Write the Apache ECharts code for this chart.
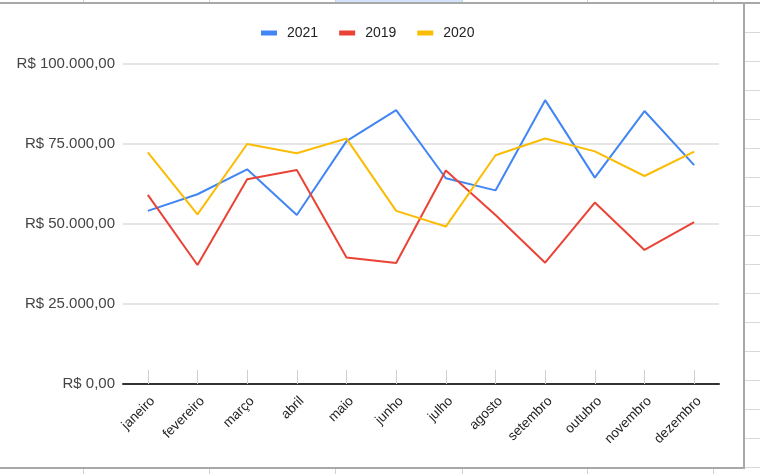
<!DOCTYPE html>
<html>
<head>
<meta charset="utf-8">
<script src="https://cdn.jsdelivr.net/npm/echarts@6/dist/echarts.min.js"></script>
<style>
html,body{margin:0;padding:0;background:#fff;}
#chart{width:760px;height:474px;}
</style>
</head>
<body>
<div id="chart"></div>
<script>
const months = ['janeiro','fevereiro','março','abril','maio','junho','julho','agosto','setembro','outubro','novembro','dezembro'];
const seriesNames = ['2021','2019','2020'];
const values2021 = [54100, 59300, 67100, 52800, 75900, 85600, 64300, 60500, 88700, 64500, 85300, 68400];
const values2019 = [59100, 37200, 64000, 66900, 39500, 37800, 66700, 52800, 37900, 56700, 41900, 50600];
const values2020 = [72400, 53000, 75000, 72100, 76700, 54100, 49200, 71500, 76700, 72700, 65000, 72600];
const yTicks = [0, 25000, 50000, 75000, 100000];

function brl(v){
  const s = Math.round(v).toString().replace(/\B(?=(\d{3})+(?!\d))/g, '.');
  return 'R$ ' + s + ',00';
}

const colors = ['#4285F4', '#EA4335', '#FBBC04'];
const dataBySeries = [values2021, values2019, values2020];

// spreadsheet decoration around the chart frame
const deco = [];
const colX = [83, 209, 335, 462, 587, 713];
deco.push({type:'rect', shape:{x:335, y:0, width:127, height:3}, style:{fill:'#d3e3fd'}, silent:true});
colX.forEach(x => {
  deco.push({type:'line', shape:{x1:x+0.5, y1:0, x2:x+0.5, y2:3}, style:{stroke:'#d0d0d0', lineWidth:1}, silent:true});
  deco.push({type:'line', shape:{x1:x+0.5, y1:469, x2:x+0.5, y2:474}, style:{stroke:'#d0d0d0', lineWidth:1}, silent:true});
});
for (let y = 32; y < 470; y += 29) {
  deco.push({type:'line', shape:{x1:745, y1:y+0.5, x2:760, y2:y+0.5}, style:{stroke:'#d8d8d8', lineWidth:1}, silent:true});
}
deco.push({type:'line', shape:{x1:0, y1:3, x2:760, y2:3}, style:{stroke:'#a8a8a8', lineWidth:2}, silent:true});
deco.push({type:'line', shape:{x1:744, y1:3, x2:744, y2:469}, style:{stroke:'#a8a8a8', lineWidth:2}, silent:true});
deco.push({type:'line', shape:{x1:0, y1:468, x2:745, y2:468}, style:{stroke:'#a8a8a8', lineWidth:2}, silent:true});

const chart = echarts.init(document.getElementById('chart'), null, {renderer:'canvas'});
chart.setOption({
  animation:false,
  backgroundColor:'#ffffff',
  color: colors,
  textStyle:{fontFamily:'Arial, "Liberation Sans", sans-serif'},
  legend:{
    data: seriesNames,
    top: 26,
    left: 261,
    padding: 0,
    itemWidth: 16,
    itemHeight: 5,
    itemGap: 21,
    icon: 'rect',
    textStyle:{fontSize:14, color:'#222', padding:[0,0,0,5], fontFamily:'Arial, "Liberation Sans", sans-serif'}
  },
  grid:{left:123, right:41, top:64, bottom:90, containLabel:false},
  xAxis:{
    type:'category',
    data: months,
    boundaryGap:true,
    axisLine:{show:true, lineStyle:{color:'#333', width:2}},
    axisTick:{show:true, alignWithLabel:true, inside:true, length:14, lineStyle:{color:'#d0d0d0', width:1}},
    axisLabel:{rotate:45, margin:10, verticalAlign:'top', fontSize:13.5, color:'#222', interval:0}
  },
  yAxis:{
    type:'value',
    min: yTicks[0],
    max: yTicks[yTicks.length-1],
    interval: yTicks[1]-yTicks[0],
    axisLine:{show:false},
    axisTick:{show:false},
    splitLine:{lineStyle:{color:'#dcdcdc', width:1.5}},
    axisLabel:{formatter: brl, fontSize:15, color:'#444', margin:8}
  },
  series: seriesNames.map((n,i) => ({
    name:n,
    type:'line',
    data: dataBySeries[i],
    showSymbol:false,
    symbol:'none',
    lineStyle:{width:2, color:colors[i]},
    itemStyle:{color:colors[i]}
  })),
  graphic: deco
});
</script>
</body>
</html>
